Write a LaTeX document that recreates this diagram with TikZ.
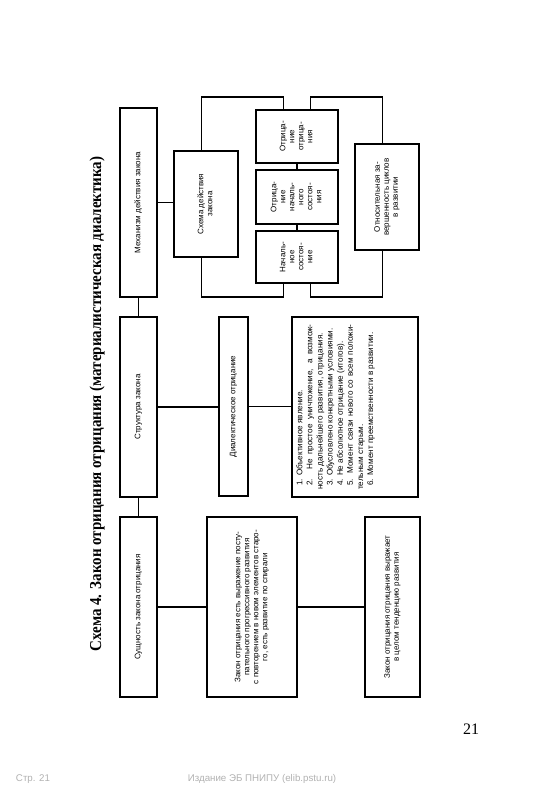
\documentclass[tikz,border=0pt]{standalone}
\usepackage{fontspec}
\setmainfont{Liberation Serif}
\setsansfont{Liberation Sans}
\usepackage{graphicx}

\newcommand{\povtext}[1]{\rotatebox{90}{\begin{tabular}{@{}c@{}}#1\end{tabular}}}

\tikzset{
  blok/.style={draw, line width=1.1pt, inner sep=0pt,
    font=\sffamily\fontsize{6}{6.75}\selectfont},
  svyaz/.style={line width=0.8pt},
  podval/.style={font=\sffamily\fontsize{7.3}{9}\selectfont, text=black!30},
}

\begin{document}
\begin{tikzpicture}[x=0.75pt,y=-0.75pt]
        \fill[white] (0,0) rectangle (559,794);
        \useasboundingbox (0,0) rectangle (559,794);
        \node[rotate=90, font=\bfseries\fontsize{12.5}{15}\selectfont] (zagolovok) at (97,404) {\scalebox{0.9}[1]{Схема 4. Закон отрицания отрицания (материалистическая диалектика)}};
        % levyj stolbec
        \node[blok, minimum width=27.75pt, minimum height=141.75pt] (meh) at (138.5,202.5) {\povtext{Механизм действия закона}};
        \node[blok, minimum width=27.75pt, minimum height=135pt] (struk) at (138.5,407) {\povtext{Структура закона}};
        \node[blok, minimum width=27.75pt, minimum height=135pt] (sush) at (138.5,607) {\povtext{Сущность закона отрицания}};
        % shema dejstvija
        \node[blok, minimum width=48pt, minimum height=79.5pt] (shema) at (206,204) {\povtext{Схема действия\\закона}};
        \node[blok, minimum width=61.5pt, minimum height=39.75pt] (oo) at (297,136.5) {\povtext{Отрица-\\ние\\отрица-\\ния}};
        \node[blok, minimum width=61.5pt, minimum height=40.5pt] (ons) at (297,197) {\povtext{Отрица-\\ние\\началь-\\ного\\состоя-\\ния}};
        \node[blok, minimum width=61.5pt, minimum height=39pt] (ns) at (297,257) {\povtext{Началь-\\ное\\состоя-\\ние}};
        \node[blok, minimum width=48pt, minimum height=79.5pt] (otn) at (387,197) {\povtext{Относительная за-\\вершенность циклов\\в развитии}};
        % struktura
        \node[blok, minimum width=21.75pt, minimum height=134.25pt] (dial) at (233.5,406.5) {\povtext{Диалектическое отрицание}};
        \node[blok, minimum width=94.5pt, minimum height=135pt] (spisok) at (355,407) {\rotatebox{90}{\parbox[c][88pt][t]{124pt}{\fontsize{6.1}{7.6}\selectfont\setlength{\parindent}{3pt}\hyphenpenalty=10000
          1. Объективное явление.\par
          2. Не простое уничтожение, а возмож-\linebreak ность дальнейшего развития, отрицания.\par
          3. Обусловлено конкретными условиями.\par
          4. Не абсолютное отрицание (итогов).\par
          5. Момент связи нового со всем положи-\linebreak тельным старым.\par
          6. Момент преемственности в развитии.}}};
        % sushhnost'
        \node[blok, minimum width=67.5pt, minimum height=135pt] (zakest) at (252,607) {\povtext{Закон отрицания есть выражение посту-\\пательного прогрессивного развития\\с повторением в новом элементов старо-\\го, есть развитие по спирали}};
        \node[blok, minimum width=41.25pt, minimum height=135pt] (zakvyr) at (392.5,607) {\povtext{Закон отрицания отрицания выражает\\в целом тенденцию развития}};
        % svjazi
        \draw[svyaz] (meh.south) -- (struk.north);
        \draw[svyaz] (struk.south) -- (sush.north);
        \draw[svyaz] (meh.east) -- (meh.east -| shema.west);
        \draw[svyaz] (struk.east) -- (struk.east -| dial.west);
        \draw[svyaz] (dial.east) -- (dial.east -| spisok.west);
        \draw[svyaz] (sush.east) -- (zakest.west);
        \draw[svyaz] (zakest.east) -- (zakvyr.west);
        \draw[svyaz] (oo.south) -- (ons.north);
        \draw[svyaz] (ons.south) -- (ns.north);
        \coordinate (verh) at (0,97);
        \coordinate (niz) at (0,297);
        \draw[svyaz] ([xshift=-3.2pt]shema.north) |- ([xshift=-10.3pt]oo.north |- verh) -- ([xshift=-10.3pt]oo.north);
        \draw[svyaz] ([xshift=10.3pt]oo.north) |- ([xshift=-3.2pt]otn.north |- verh) -- ([xshift=-3.2pt]otn.north);
        \draw[svyaz] ([xshift=-3.2pt]shema.south) |- ([xshift=-10.3pt]ns.south |- niz) -- ([xshift=-10.3pt]ns.south);
        \draw[svyaz] ([xshift=10.3pt]ns.south) |- ([xshift=-3.2pt]otn.south |- niz) -- ([xshift=-3.2pt]otn.south);
        % nomer stranicy i kolontitul
        \node[font=\fontsize{12}{14}\selectfont] (nomer) at (471,729) {21};
        \node[podval] (str21) at (33,779) {Стр. 21};
        \node[podval] (izdanie) at (262,779) {Издание ЭБ ПНИПУ (elib.pstu.ru)};
\end{tikzpicture}
\end{document}
